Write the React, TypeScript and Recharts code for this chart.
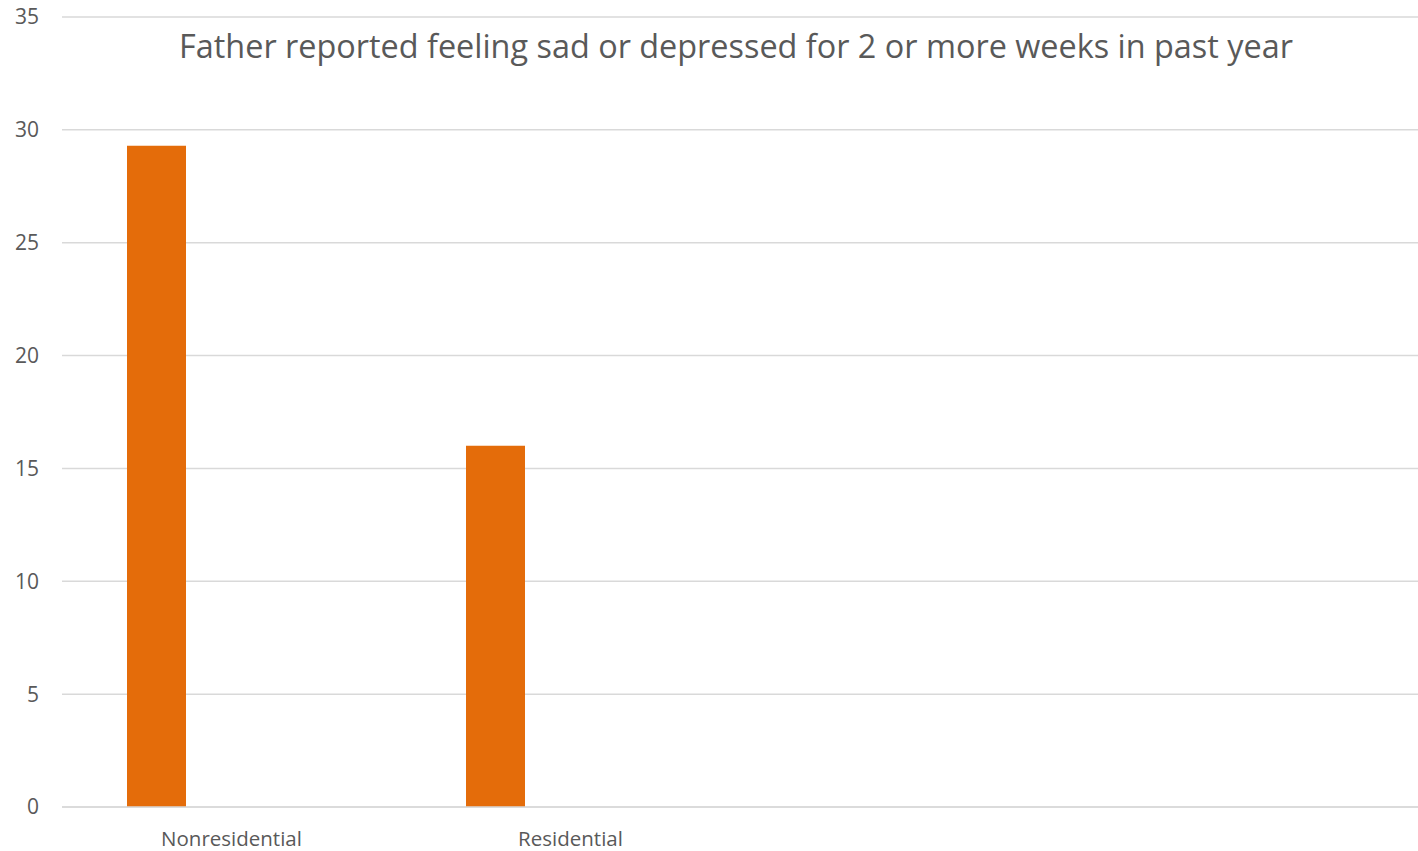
import React from 'react';
import { BarChart, Bar, XAxis, YAxis, CartesianGrid } from 'recharts';

const categories = ['Nonresidential', 'Residential', '', ''];
const fatherSadValues = [29.3, 16.0, null, null];
const spacerValues = [null, null, null, null];
const yTicks = [0, 5, 10, 15, 20, 25, 30, 35];
const title = 'Father reported feeling sad or depressed for 2 or more weeks in past year';

const data = categories.map((c, i) => ({
  category: c,
  value: fatherSadValues[i],
  spacer: spacerValues[i],
}));

const TEXT = '#595959';
const FONT = '"Open Sans", sans-serif';

export default function App() {
  return (
    <div style={{ position: 'absolute', left: 0, top: 0, width: 1418, height: 851, background: '#fff' }}>
      <BarChart
        width={1418}
        height={851}
        data={data}
        margin={{ top: 17, right: 0, bottom: 0, left: 0 }}
        barGap={0}
      >
        <CartesianGrid vertical={false} stroke="#D9D9D9" strokeWidth={1.5} />
        <XAxis
          dataKey="category"
          height={44}
          axisLine={{ stroke: '#D9D9D9', strokeWidth: 1.5 }}
          tickLine={false}
          tickSize={0}
          tickMargin={24}
          interval={0}
          tick={{ fill: TEXT, fontSize: 20.5, fontFamily: FONT }}
        />
        <YAxis
          width={62}
          domain={[0, 35]}
          ticks={yTicks}
          axisLine={false}
          tickLine={false}
          tickSize={0}
          tickMargin={23}
          tick={{ fill: TEXT, fontSize: 21, fontFamily: FONT }}
        />
        <Bar dataKey="value" fill="#E46C0A" barSize={59} isAnimationActive={false} />
        <Bar dataKey="spacer" fill="transparent" barSize={150} isAnimationActive={false} />
        <text
          x={736}
          y={58}
          textAnchor="middle"
          fill={TEXT}
          fontSize={32.4}
          fontFamily={FONT}
        >
          {title}
        </text>
      </BarChart>
    </div>
  );
}
